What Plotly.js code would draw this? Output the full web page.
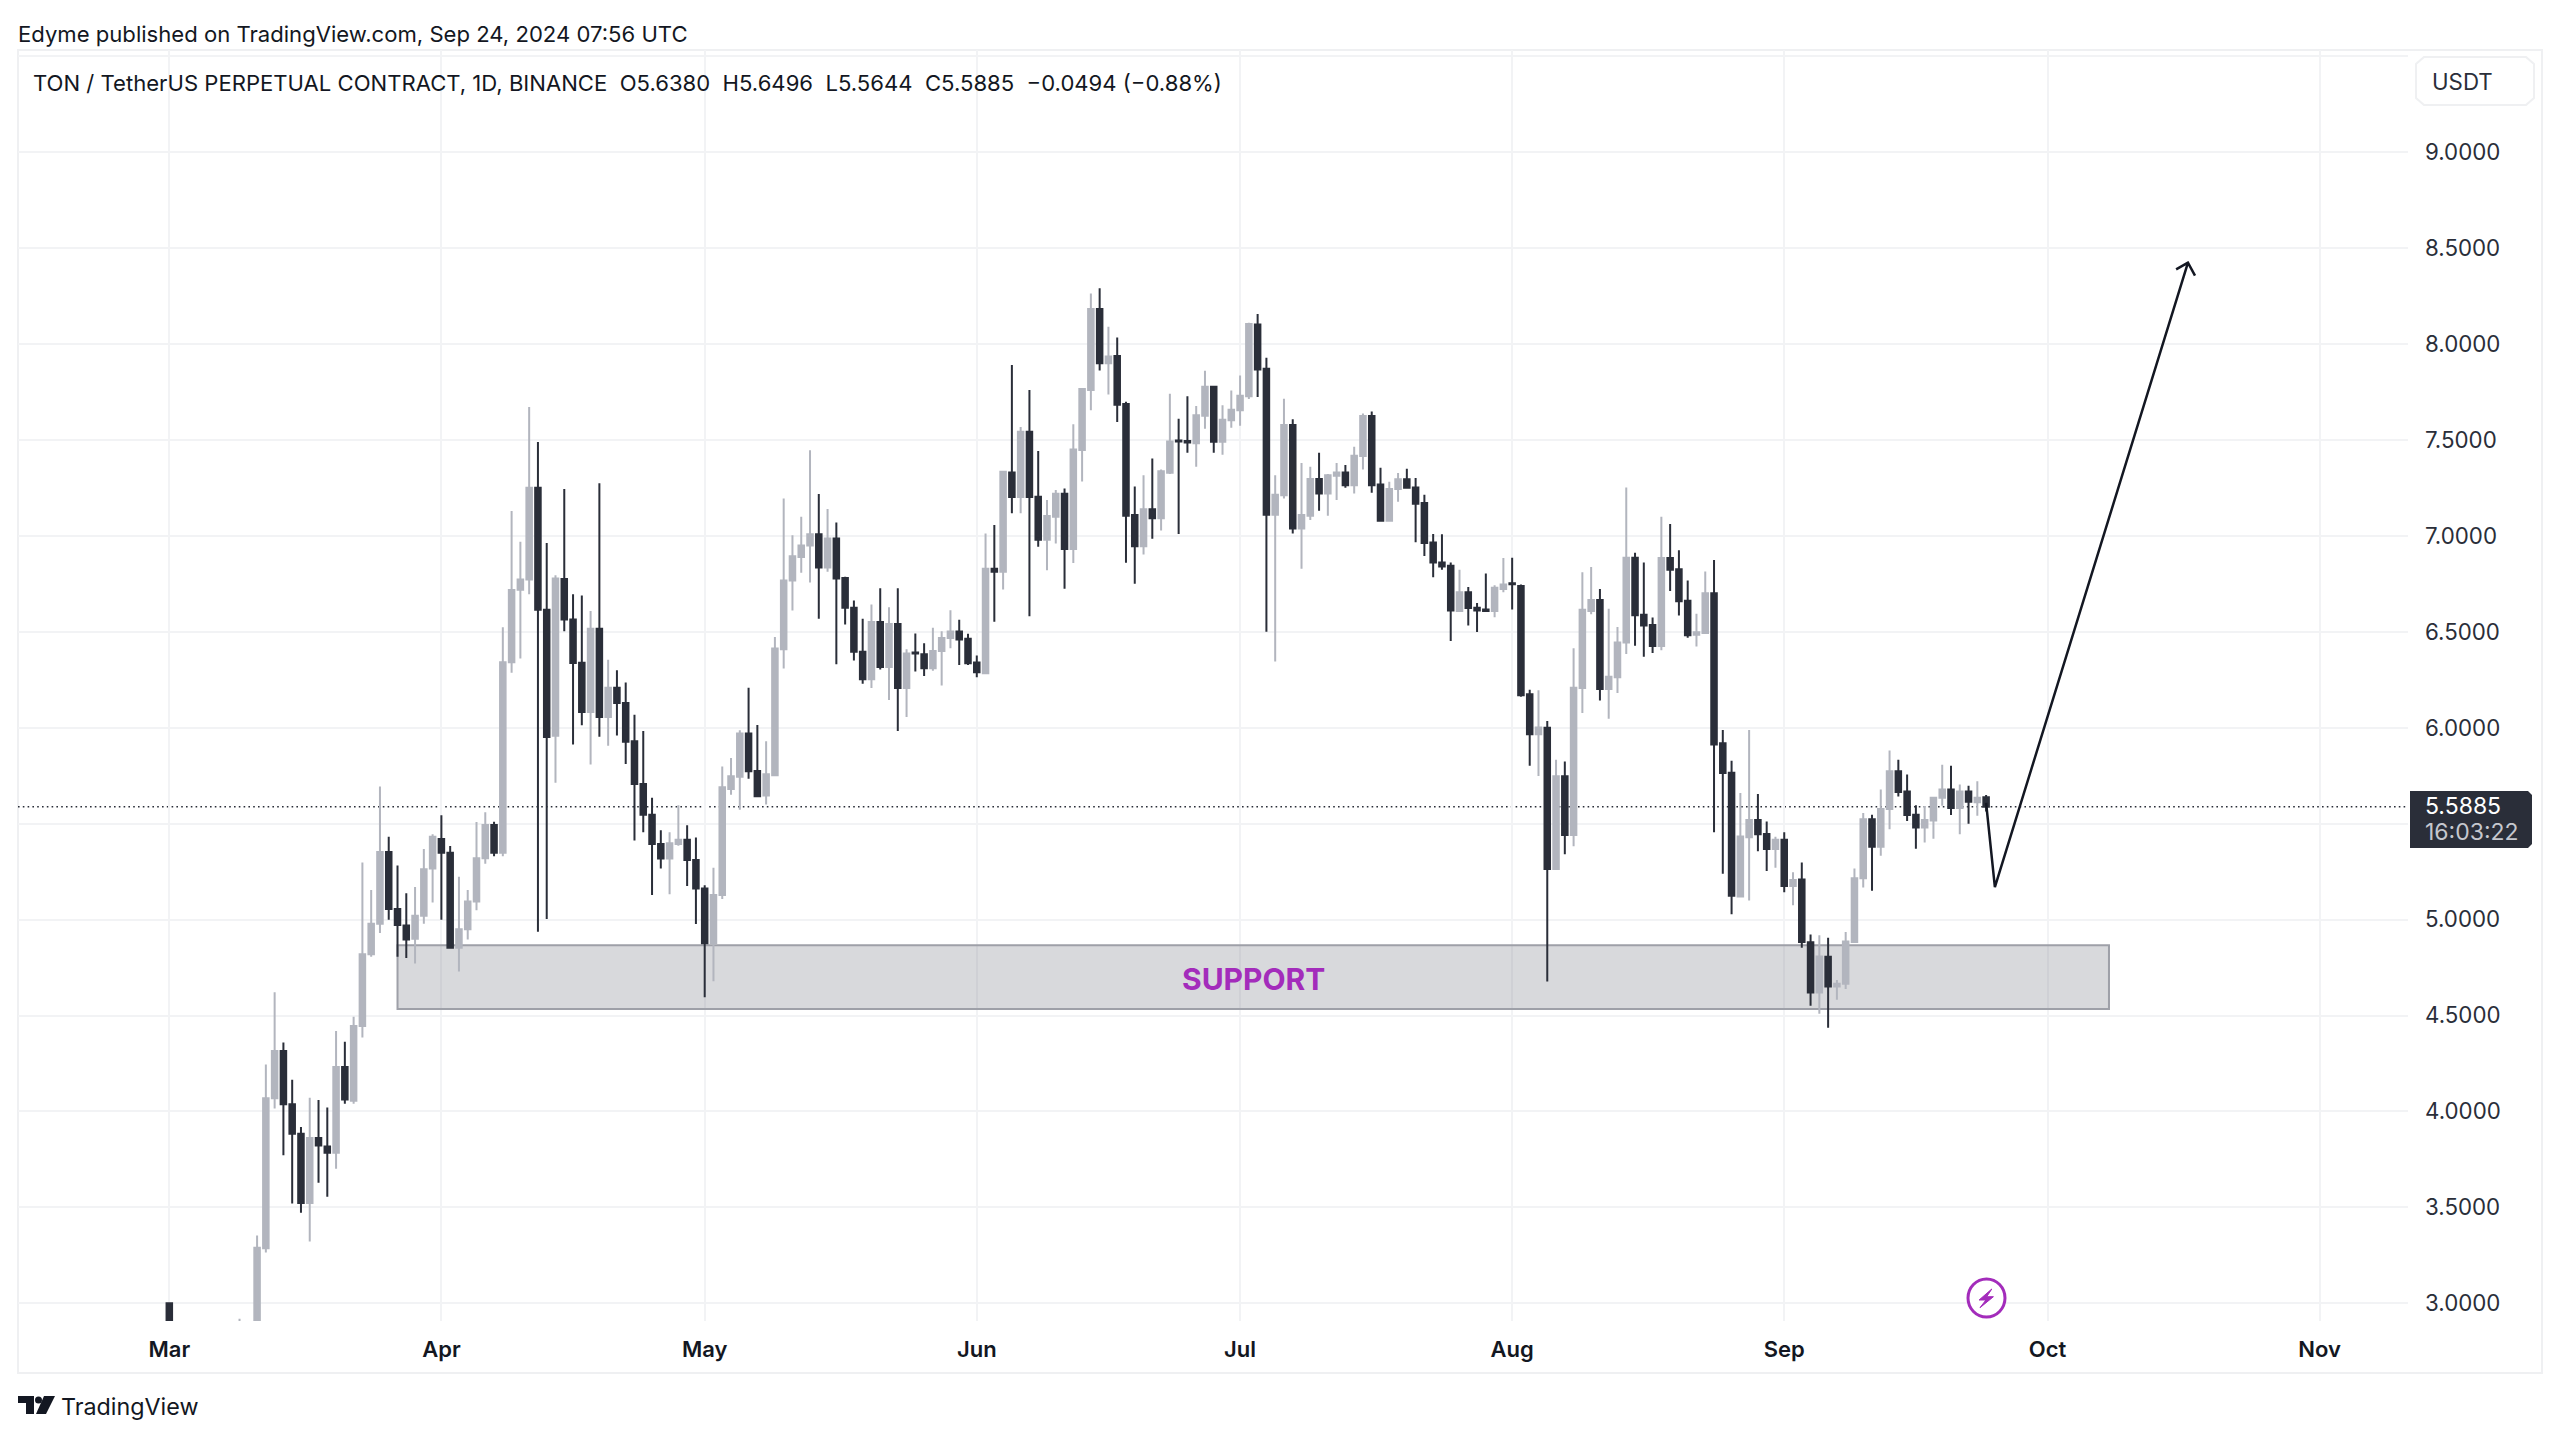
<!DOCTYPE html>
<html>
<head>
<meta charset="utf-8">
<script src="https://cdn.plot.ly/plotly-3.0.1.min.js"></script>
<style>html,body{margin:0;padding:0;background:#fff}#chart{width:2560px;height:1438px}</style>
</head>
<body>
<div id="chart"></div>
<script>
const firstDay = '2024-03-01';

// daily bars, one line per month: Mar, Apr, May, Jun, Jul, Aug, Sep
const opens = [
3.00,2.78,2.72,2.70,2.62,2.50,2.62,2.70,2.76,2.80,2.81,3.287,4.069,4.315,4.037,3.884,3.523,3.862,3.817,3.785,4.232,4.056,4.446,4.819,4.979,5.352,5.055,4.969,4.90,5.02,5.266,
5.42,5.349,4.854,4.95,5.094,5.32,5.493,5.349,6.342,6.72,6.773,7.251,6.616,5.958,6.776,6.565,6.339,6.083,6.517,6.056,6.209,6.13,5.93,5.707,5.547,5.394,5.319,5.394,5.417,5.311,
5.162,4.877,5.128,5.681,5.745,5.97,5.775,5.647,5.753,6.409,6.768,6.89,6.951,7.009,6.836,6.987,6.781,6.626,6.396,6.253,6.551,6.317,6.541,6.207,6.392,6.383,6.311,6.40,6.468,6.502,6.464,
6.341,6.285,6.829,6.814,7.331,7.203,7.543,7.205,6.98,7.10,7.22,6.932,7.448,7.761,8.183,7.901,7.938,7.688,7.109,6.947,7.139,7.092,7.33,7.498,7.495,7.483,7.627,7.778,7.491,7.604,
7.656,7.728,8.103,7.872,7.111,7.213,7.578,7.039,7.105,7.297,7.222,7.314,7.331,7.265,7.417,7.625,7.269,7.079,7.245,7.296,7.253,7.172,6.966,6.862,6.845,6.609,6.707,6.626,6.617,6.609,6.724,
6.753,6.739,6.175,5.966,6.0,5.264,5.747,5.441,6.207,6.609,6.666,6.202,6.264,6.445,6.887,6.589,6.536,6.426,6.885,6.826,6.662,6.485,6.494,6.702,5.919,5.766,5.121,5.43,5.519,5.447,5.368,
5.417,5.175,5.209,4.882,4.62,4.806,4.651,4.666,4.884,5.216,5.523,5.38,5.577,5.774,5.668,5.547,5.48,5.517,5.635,5.679,5.582,5.668,5.612,5.638
];
const highs = [
3.00,2.85,2.80,2.80,2.75,2.70,2.82,2.85,2.92,2.88,3.354,4.245,4.621,4.36,4.165,3.919,4.072,4.06,4.021,4.42,4.363,4.494,5.298,5.154,5.694,5.432,5.282,5.138,5.17,5.368,5.445,
5.544,5.384,5.224,5.154,5.509,5.56,5.51,6.524,7.13,6.97,7.673,7.49,6.964,6.795,7.245,6.696,6.69,6.609,7.275,6.355,6.30,6.236,6.068,5.983,5.636,5.466,5.455,5.596,5.492,5.428,
5.179,5.27,5.798,5.843,5.987,6.209,6.015,5.93,6.473,7.196,7.004,7.10,7.447,7.219,7.141,7.07,6.787,6.664,6.568,6.643,6.728,6.628,6.728,6.409,6.492,6.441,6.522,6.504,6.613,6.564,6.49,
6.377,7.013,7.057,7.34,7.891,7.568,7.761,7.443,7.187,7.24,7.248,7.582,7.77,8.264,8.291,8.091,8.035,7.70,7.258,7.316,7.404,7.347,7.741,7.611,7.728,7.677,7.861,7.778,7.681,7.759,
7.837,8.112,8.157,7.929,7.316,7.715,7.609,7.38,7.361,7.434,7.323,7.38,7.37,7.465,7.639,7.649,7.356,7.283,7.328,7.351,7.302,7.215,7.011,7.009,6.862,6.824,6.734,6.651,6.804,6.743,6.885,
6.887,6.747,6.198,6.196,6.036,5.834,5.824,6.415,6.811,6.838,6.724,6.621,6.526,7.253,6.913,6.862,6.575,7.10,7.062,6.926,6.768,6.594,6.815,6.875,5.989,5.828,5.66,5.989,5.655,5.511,5.432,
5.456,5.247,5.298,4.923,4.918,4.905,4.685,4.936,5.266,5.556,5.547,5.679,5.882,5.834,5.756,5.596,5.592,5.64,5.808,5.802,5.704,5.698,5.722,5.6496
];
const lows = [
2.72,2.62,2.62,2.55,2.30,2.45,2.58,2.62,2.72,2.72,2.75,3.265,4.015,3.772,3.52,3.472,3.322,3.628,3.555,3.702,4.04,4.04,4.385,4.806,4.931,5.0,4.806,4.80,4.771,4.979,5.09,
5.0,4.851,4.73,4.896,5.049,5.291,5.33,5.33,6.287,6.361,6.696,4.937,5.004,5.713,6.504,5.913,6.013,5.809,5.953,5.907,5.96,5.811,5.413,5.456,5.128,5.266,5.132,5.385,5.175,4.977,
4.596,4.679,5.107,5.651,5.573,5.734,5.638,5.60,5.753,6.309,6.611,6.809,6.758,6.568,6.813,6.332,6.539,6.351,6.23,6.207,6.304,6.145,5.983,6.056,6.294,6.27,6.298,6.221,6.415,6.328,6.328,
6.264,6.279,6.553,6.721,7.118,7.118,6.581,6.944,6.822,6.961,6.725,6.859,7.284,7.656,7.863,7.738,7.594,6.86,6.751,6.904,6.986,7.029,7.323,7.01,7.434,7.361,7.559,7.434,7.423,7.564,
7.575,7.714,7.724,6.501,6.346,7.196,7.013,6.829,7.083,7.132,7.105,7.187,7.252,7.222,7.347,7.225,7.079,7.079,7.179,7.251,6.968,6.896,6.785,6.824,6.453,6.607,6.534,6.50,6.609,6.577,6.707,
6.617,6.162,5.802,5.749,4.677,5.264,5.341,5.383,6.077,6.592,6.143,6.047,6.181,6.385,6.428,6.37,6.39,6.404,6.713,6.585,6.47,6.424,6.494,5.456,5.239,5.028,5.121,5.10,5.356,5.253,5.27,
5.143,5.075,4.853,4.551,4.51,4.437,4.582,4.638,4.88,5.167,5.15,5.333,5.471,5.642,5.514,5.37,5.402,5.422,5.594,5.545,5.445,5.5,5.542,5.5644
];
const closes = [
2.78,2.72,2.70,2.62,2.50,2.62,2.70,2.76,2.80,2.81,3.29,4.069,4.315,4.037,3.884,3.523,3.862,3.823,3.785,4.232,4.063,4.446,4.819,4.979,5.352,5.055,4.972,4.896,5.02,5.263,5.432,
5.349,4.854,4.95,5.094,5.32,5.493,5.349,6.342,6.718,6.773,7.251,6.616,5.952,6.779,6.565,6.338,6.083,6.517,6.056,6.209,6.13,5.928,5.707,5.547,5.394,5.319,5.398,5.417,5.311,5.162,
4.877,5.128,5.69,5.747,5.97,5.773,5.643,5.758,6.413,6.768,6.894,6.951,7.009,6.836,6.987,6.779,6.626,6.396,6.253,6.551,6.317,6.541,6.207,6.387,6.387,6.311,6.40,6.468,6.502,6.46,6.336,
6.29,6.829,6.814,7.335,7.203,7.543,7.203,6.98,7.104,7.22,6.932,7.451,7.766,8.183,7.901,7.936,7.684,7.105,6.947,7.139,7.092,7.337,7.493,7.493,7.488,7.63,7.778,7.491,7.606,7.658,
7.731,8.105,7.868,7.111,7.215,7.578,7.039,7.109,7.297,7.222,7.316,7.331,7.265,7.418,7.625,7.265,7.079,7.245,7.296,7.251,7.168,6.964,6.862,6.841,6.611,6.707,6.624,6.611,6.609,6.73,6.747,
6.749,6.17,5.966,6.002,5.264,5.747,5.441,6.209,6.615,6.666,6.202,6.266,6.445,6.887,6.587,6.534,6.426,6.885,6.824,6.66,6.483,6.498,6.702,5.913,5.764,5.124,5.434,5.519,5.445,5.368,5.417,
5.175,5.207,4.883,4.62,4.808,4.651,4.666,4.886,5.216,5.523,5.38,5.577,5.774,5.666,5.545,5.48,5.519,5.636,5.679,5.582,5.668,5.614,5.635,5.5885
];

const priceTicks = [3,3.5,4,4.5,5,5.5,6,6.5,7,7.5,8,8.5,9,9.5];
const priceLabels = ['3.0000','3.5000','4.0000','4.5000','5.0000','','6.0000','6.5000','7.0000','7.5000','8.0000','8.5000','9.0000',''];
const monthTicks = ['2024-03-01','2024-04-01','2024-05-01','2024-06-01','2024-07-01','2024-08-01','2024-09-01','2024-10-01','2024-11-01'];
const monthLabels = ['Mar','Apr','May','Jun','Jul','Aug','Sep','Oct','Nov'];

const lastPrice = 5.5885;
const supportTop = 4.866, supportBottom = 4.534;
const supportStart = '2024-03-27', supportEnd = '2024-10-08';
const forecastDates = ['2024-09-24','2024-09-25','2024-10-17','2024-10-15 15:36','2024-10-17','2024-10-17 19:12'];
const forecastPrices = [5.609,5.17,8.425,8.39,8.425,8.357];

const dates = opens.map((_, i) => new Date(Date.parse(firstDay + 'T00:00:00Z') + i * 86400000).toISOString().slice(0, 10));

const DARK = '#2A2E39', LIGHT = '#B2B5BE', GRID = '#F2F3F5', INK = '#131722', PURPLE = '#A32CBB';
const FONT = 'Inter, "Open Sans", sans-serif';
const L = 18, R = 2408, T = 50, B = 1321;
const px = x => (x - L) / (R - L);
const py = y => (B - y) / (B - T);
const pathOf = pts => pts.map((p, i) => (i ? 'L' : 'M') + px(p[0]).toFixed(5) + ',' + py(p[1]).toFixed(5)).join(' ') + ' Z';

const note = (x, y, text, size, color, extra) => Object.assign({
  xref: 'paper', yref: 'paper', x: px(x), y: py(y), text, showarrow: false,
  xanchor: 'left', yanchor: 'middle', borderpad: 0, align: 'left',
  font: {family: FONT, size, color}
}, extra || {});

const traces = [
  {
    type: 'candlestick', x: dates, open: opens, high: highs, low: lows, close: closes,
    increasing: {line: {color: LIGHT, width: 2}, fillcolor: LIGHT},
    decreasing: {line: {color: DARK, width: 2}, fillcolor: DARK},
    whiskerwidth: 0, hoverinfo: 'skip', showlegend: false
  },
  {
    type: 'scatter', mode: 'lines', x: forecastDates, y: forecastPrices,
    line: {color: INK, width: 2.5}, hoverinfo: 'skip', showlegend: false
  }
];

const layout = {
  width: 2560, height: 1438,
  margin: {l: L, r: 2560 - R, t: T, b: 1438 - B, pad: 0, autoexpand: false},
  paper_bgcolor: '#fff', plot_bgcolor: '#fff',
  showlegend: false, boxgap: 0.1, boxgroupgap: 0.3,
  font: {family: FONT, color: INK},
  xaxis: {
    type: 'date', range: ['2024-02-12 18:14', '2024-11-11 01:40'],
    rangeslider: {visible: false}, fixedrange: true,
    tickmode: 'array', tickvals: monthTicks, ticktext: monthLabels,
    tickangle: 0, ticks: '', showline: false, zeroline: false,
    showgrid: true, gridcolor: GRID, gridwidth: 2,
    tickfont: {family: FONT, size: 22, color: INK, weight: 600},
    ticklabelstandoff: 13
  },
  yaxis: {
    side: 'right', range: [2.9077, 9.5335], fixedrange: true,
    tickmode: 'array', tickvals: priceTicks, ticktext: priceLabels,
    ticks: '', showline: false, zeroline: false,
    showgrid: true, gridcolor: GRID, gridwidth: 2,
    tickfont: {family: FONT, size: 22.3, color: DARK},
    ticklabelstandoff: 16
  },
  shapes: [
    {type: 'rect', xref: 'paper', yref: 'paper', x0: px(18), x1: px(2542), y0: py(1373), y1: py(50),
     line: {color: '#EFF0F2', width: 2}, fillcolor: 'rgba(0,0,0,0)', layer: 'below'},
    {type: 'rect', xref: 'x', yref: 'y', x0: supportStart, x1: supportEnd, y0: supportBottom, y1: supportTop,
     line: {color: '#9EA0A8', width: 2}, fillcolor: 'rgba(120,123,134,0.29)', layer: 'between'},
    {type: 'line', xref: 'paper', yref: 'y', x0: 0, x1: 1, y0: lastPrice, y1: lastPrice,
     line: {color: DARK, width: 1.6, dash: '1.6px,3.2px'}, layer: 'between'},
    // last price tag
    {type: 'path', xref: 'paper', yref: 'paper', layer: 'above', line: {width: 0}, fillcolor: DARK,
     path: pathOf([[2410,791],[2528,791],[2532,795],[2532,844],[2528,848],[2410,848]])},
    // currency button
    {type: 'path', xref: 'paper', yref: 'paper', layer: 'above', line: {color: '#EFF0F2', width: 2}, fillcolor: '#fff',
     path: pathOf([[2424,57],[2526,57],[2534,64],[2534,98],[2526,105],[2424,105],[2416,98],[2416,64]])},
    // bolt badge
    {type: 'circle', xref: 'paper', yref: 'paper', layer: 'above', x0: px(1968), x1: px(2005), y0: py(1317), y1: py(1279),
     line: {color: PURPLE, width: 3}, fillcolor: '#fff'},
    {type: 'path', xref: 'paper', yref: 'paper', layer: 'above', line: {color: PURPLE, width: 1}, fillcolor: PURPLE,
     path: pathOf([[1991.8,1289],[1979.1,1300],[1985.9,1300],[1980,1307.7],[1993.4,1296.7],[1986.7,1296.7]])},
    // TradingView logo
    {type: 'path', xref: 'paper', yref: 'paper', layer: 'above', line: {width: 0}, fillcolor: INK,
     path: pathOf([[18,1396],[34,1396],[34,1414],[26,1414],[26,1403],[18,1403]])},
    {type: 'circle', xref: 'paper', yref: 'paper', layer: 'above', x0: px(35), x1: px(42), y0: py(1403.5), y1: py(1396.5),
     line: {width: 0}, fillcolor: INK},
    {type: 'path', xref: 'paper', yref: 'paper', layer: 'above', line: {width: 0}, fillcolor: INK,
     path: pathOf([[44,1396],[55,1396],[46,1414],[36,1414]])}
  ],
  annotations: [
    note(17, 34, 'Edyme published on TradingView.com, Sep 24, 2024 07:56 UTC', 22.1, INK),
    note(32, 83, 'TON / TetherUS PERPETUAL CONTRACT, 1D, BINANCE&#160;&#160;O5.6380&#160;&#160;H5.6496&#160;&#160;L5.5644&#160;&#160;C5.5885&#160;&#160;\u22120.0494 (\u22120.88%)', 22.1, INK),
    note(2431, 81, 'USDT', 22.3, DARK),
    note(2424, 819, '<span style="font-size:23px">5.5885</span><br><span style="font-size:23px;color:#C5C7CE">16:03:22</span>', 20, '#FFFFFF'),
    note(60, 1406, 'TradingView', 23.3, INK),
    note(1253, 979, '<b>SUPPORT</b>', 30, '#A32CBB', {xanchor: 'center'})
  ]
};

Plotly.newPlot('chart', traces, layout, {staticPlot: true, displayModeBar: false});
</script>
</body>
</html>
